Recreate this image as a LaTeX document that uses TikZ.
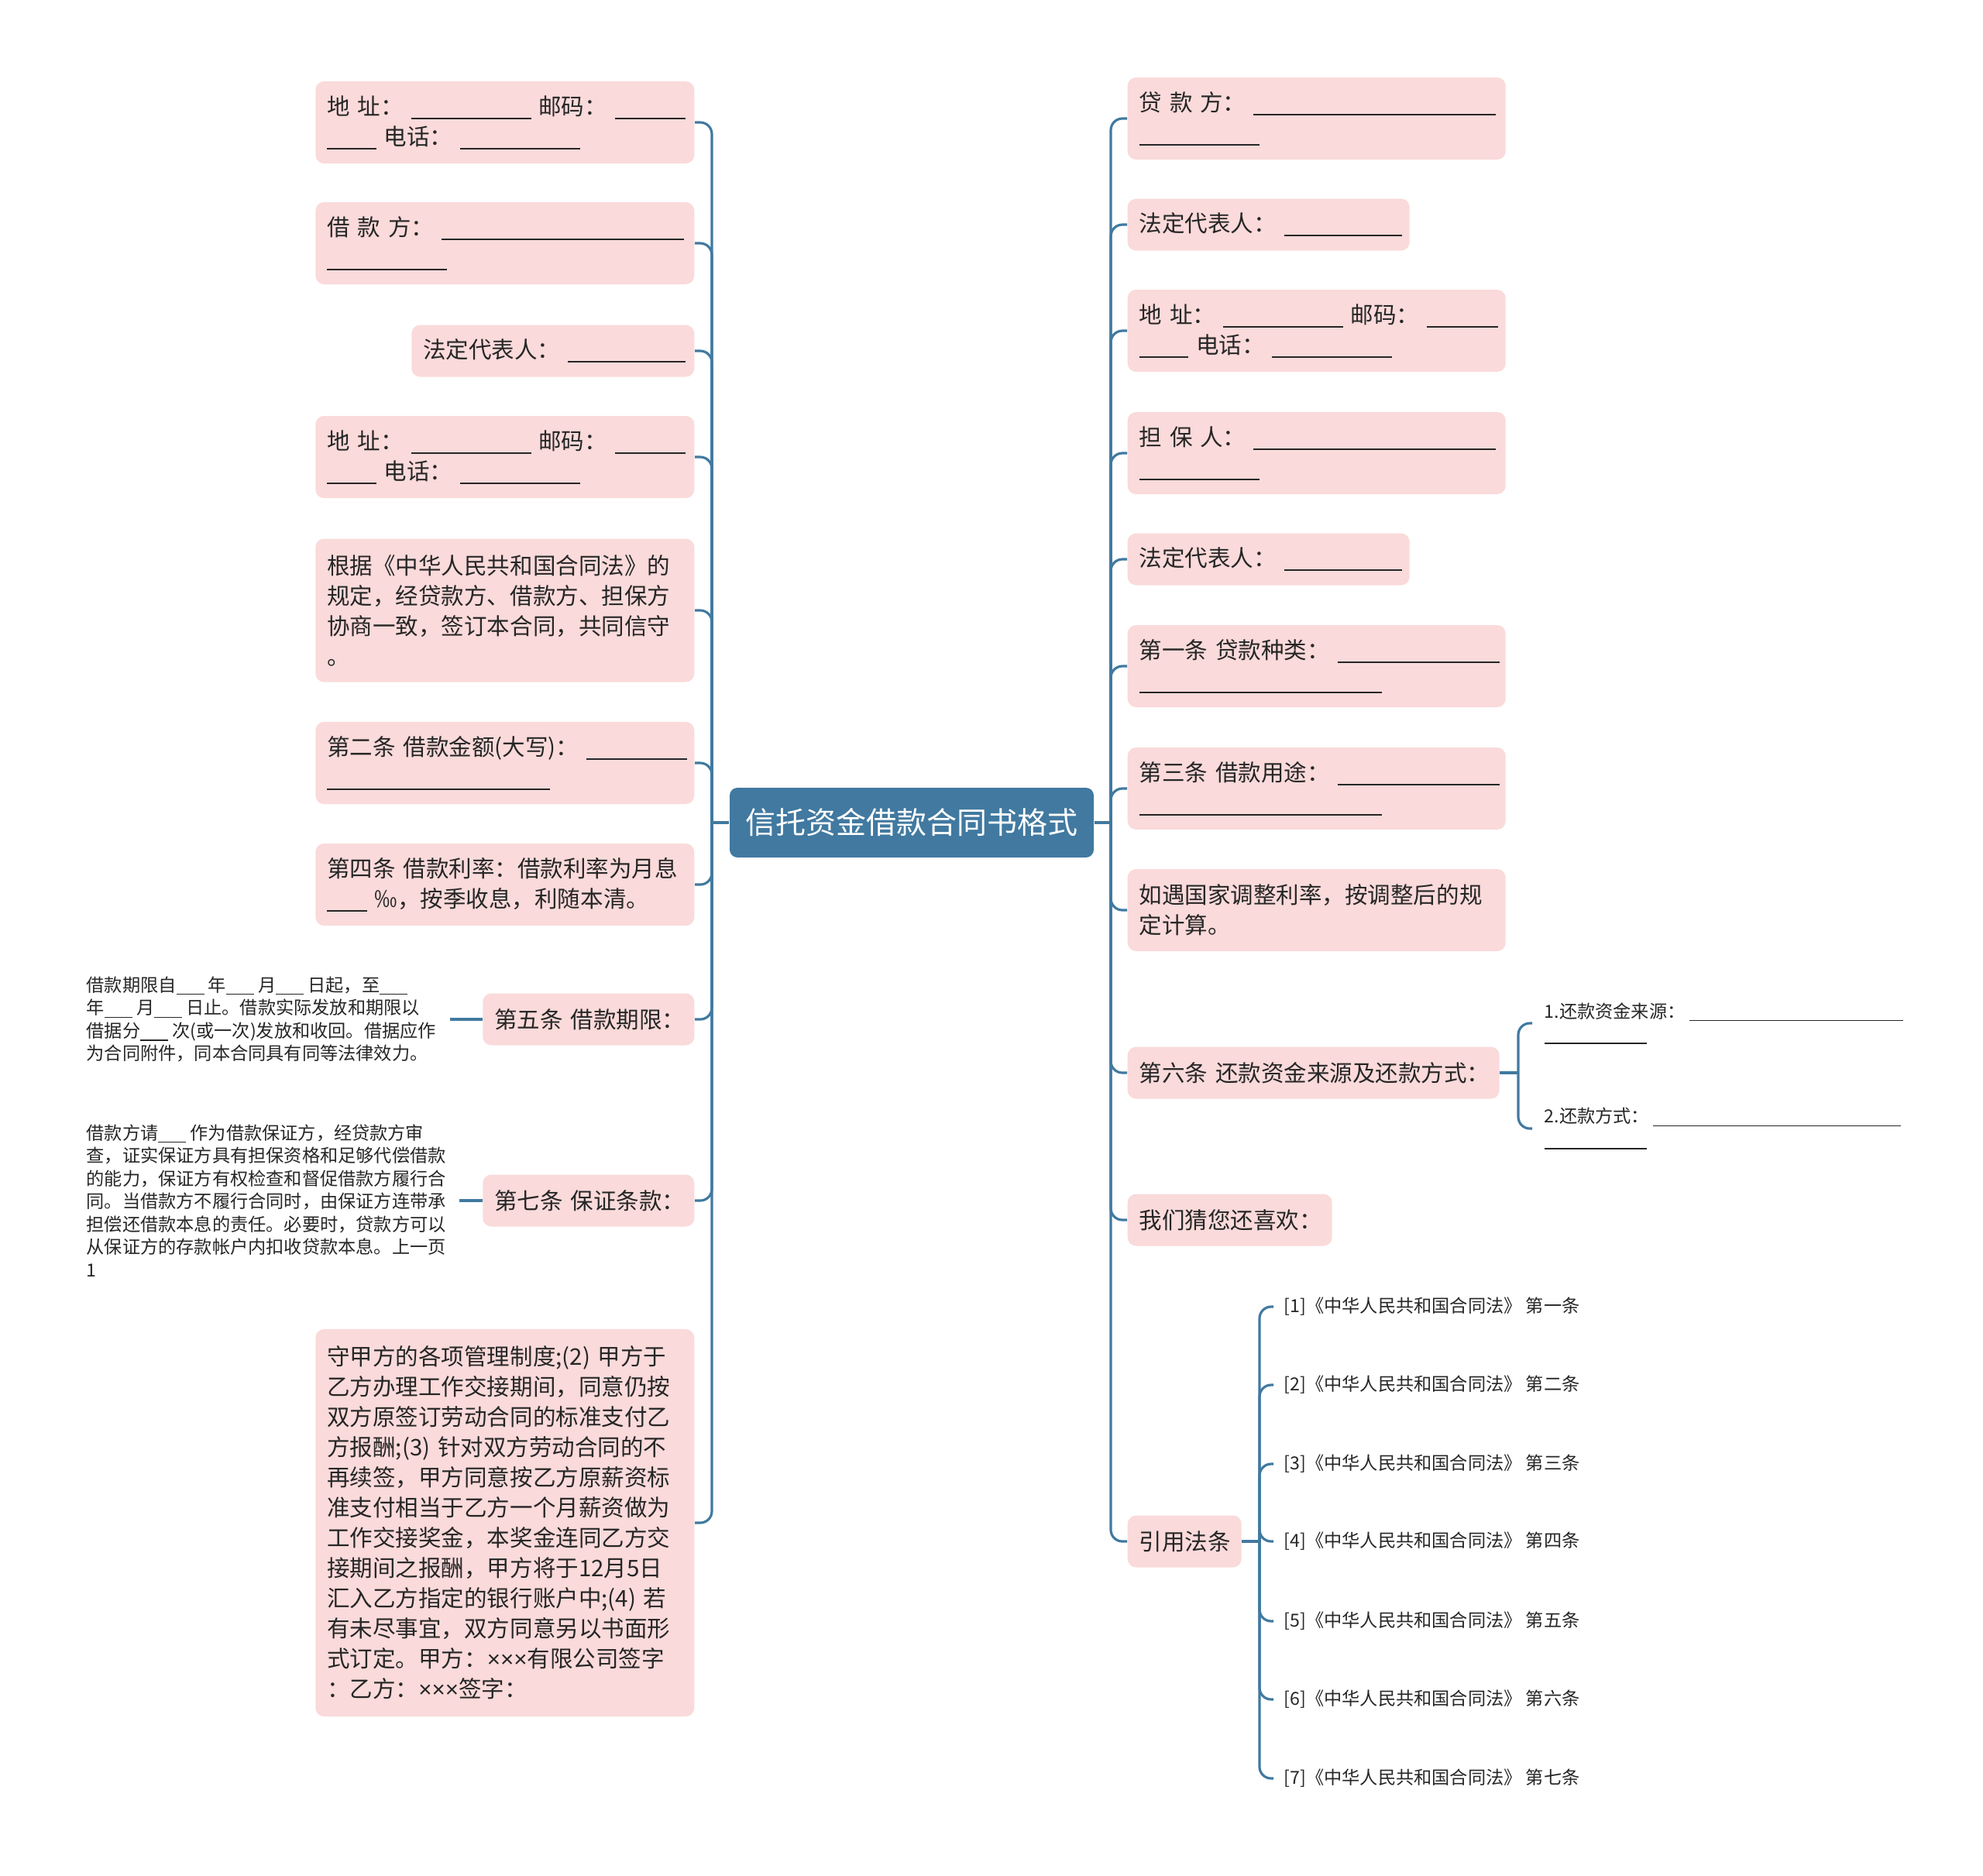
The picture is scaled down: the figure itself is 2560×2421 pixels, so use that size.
\documentclass[tikz,border=0pt]{standalone}
\usepackage{fontspec}
\setmainfont{Noto Sans CJK SC}
\newfontfamily\latinfont{Liberation Sans}
\definecolor{cardpink}{RGB}{250,218,218}
\definecolor{hubblue}{RGB}{65,121,160}
\definecolor{inkgray}{RGB}{38,38,38}
\newcommand{\hubsize}{\fontsize{11.1pt}{13pt}\selectfont}
\newcommand{\cardsize}{\fontsize{8.4pt}{11.1pt}\selectfont}
\newcommand{\notesize}{\fontsize{6.6pt}{8.4pt}\selectfont}
\newcommand{\ublank}[1]{\rule[-0.18em]{#1em}{0.06em}}
\newcommand{\xmarks}{{\latinfont ×××}}
\tikzset{loan hub/.style={fill=hubblue, text=white, rounded corners=1mm, minimum width=47mm, minimum height=9mm, font=\hubsize}}
\tikzset{loan card/.style={fill=cardpink, text=inkgray, rounded corners=1.1mm, inner xsep=1.5mm, inner ysep=0.8mm, align=left, font=\cardsize}}
\tikzset{loan one/.style={loan card, minimum height=6.7mm}}
\tikzset{loan two/.style={loan card, minimum height=10.6mm}}
\tikzset{loan note/.style={text=inkgray, inner xsep=1.7mm, align=left, font=\notesize}}
\tikzset{loan link/.style={draw=hubblue, line width=0.9pt, rounded corners=1.5mm}}

\begin{document}
\begin{tikzpicture}[x=0.1mm,y=-0.1mm]
	\useasboundingbox (0,0) rectangle (2560,2421);

	\node[loan hub] (hub) at (1177,1062) {信托资金借款合同书格式};
	\coordinate (lfork) at (919,1062);
	\coordinate (rfork) at (1434,1062);

	% left branch
	\node[loan two, anchor=east, text width=45.9mm] (lAddrA) at (897,158) {地~址：~\ublank{5.25}~邮码：~\ublank{3.1}\\\ublank{2.15}~电话：~\ublank{5.25}};
	\node[loan two, anchor=east, text width=45.9mm] (lBorrow) at (897,314) {借~款~方：~\ublank{10.6}\\\ublank{5.25}};
	\node[loan one, anchor=east, text width=33.5mm] (lLegal) at (897,453) {法定代表人：~\ublank{5.15}};
	\node[loan two, anchor=east, text width=45.9mm] (lAddrB) at (897,590) {地~址：~\ublank{5.25}~邮码：~\ublank{3.1}\\\ublank{2.15}~电话：~\ublank{5.25}};
	\node[loan card, anchor=east, text width=45.9mm, minimum height=18.5mm] (lBasis) at (897,788) {根据《中华人民共和国合同法》的\\规定，经贷款方、借款方、担保方\\协商一致，签订本合同，共同信守\\。};
	\node[loan two, anchor=east, text width=45.9mm] (lAmount) at (897,985) {第二条~借款金额(大写)：~\ublank{4.4}\\\ublank{9.75}};
	\node[loan two, anchor=east, text width=45.9mm] (lRate) at (897,1142) {第四条~借款利率：借款利率为月息\\\ublank{1.75}~‰，按季收息，利随本清。};
	\node[loan one, anchor=east, text width=24.3mm] (lTerm) at (897,1316) {第五条~借款期限：};
	\node[loan one, anchor=east, text width=24.3mm] (lGuar) at (897,1550) {第七条~保证条款：};
	\node[loan card, anchor=east, text width=45.9mm, minimum height=50mm] (lMisc) at (897,1966) {守甲方的各项管理制度;(2)~甲方于\\乙方办理工作交接期间，同意仍按\\双方原签订劳动合同的标准支付乙\\方报酬;(3)~针对双方劳动合同的不\\再续签，甲方同意按乙方原薪资标\\准支付相当于乙方一个月薪资做为\\工作交接奖金，本奖金连同乙方交\\接期间之报酬，甲方将于12月5日\\汇入乙方指定的银行账户中;(4)~若\\有未尽事宜，双方同意另以书面形\\式订定。甲方：\xmarks 有限公司签字\\：乙方：\xmarks 签字：};

	\node[loan note, anchor=west] (nTerm) at (94,1316) {借款期限自\ublank{1.55}~年\ublank{1.55}~月\ublank{1.55}~日起，至\ublank{1.55}\\年\ublank{1.55}~月\ublank{1.55}~日止。借款实际发放和期限以\\借据分\ublank{1.55}~次(或一次)发放和收回。借据应作\\为合同附件，同本合同具有同等法律效力。};
	\node[loan note, anchor=west] (nGuar) at (94,1550) {借款方请\ublank{1.55}~作为借款保证方，经贷款方审\\查，证实保证方具有担保资格和足够代偿借款\\的能力，保证方有权检查和督促借款方履行合\\同。当借款方不履行合同时，由保证方连带承\\担偿还借款本息的责任。必要时，贷款方可以\\从保证方的存款帐户内扣收贷款本息。上一页\\1};

	% right branch
	\node[loan two, anchor=west, text width=45.8mm] (rLender) at (1455,153) {贷~款~方：~\ublank{10.6}\\\ublank{5.25}};
	\node[loan one, anchor=west, text width=33.4mm] (rLegalA) at (1455,290) {法定代表人：~\ublank{5.15}};
	\node[loan two, anchor=west, text width=45.8mm] (rAddr) at (1455,427) {地~址：~\ublank{5.25}~邮码：~\ublank{3.1}\\\ublank{2.15}~电话：~\ublank{5.25}};
	\node[loan two, anchor=west, text width=45.8mm] (rSurety) at (1455,585) {担~保~人：~\ublank{10.6}\\\ublank{5.25}};
	\node[loan one, anchor=west, text width=33.4mm] (rLegalB) at (1455,722) {法定代表人：~\ublank{5.15}};
	\node[loan two, anchor=west, text width=45.8mm] (rKind) at (1455,860) {第一条~贷款种类：~\ublank{7.1}\\\ublank{10.6}};
	\node[loan two, anchor=west, text width=45.8mm] (rUse) at (1455,1018) {第三条~借款用途：~\ublank{7.1}\\\ublank{10.6}};
	\node[loan two, anchor=west, text width=45.8mm] (rAdjust) at (1455,1175) {如遇国家调整利率，按调整后的规\\定计算。};
	\node[loan one, anchor=west, text width=45mm] (rRepay) at (1455,1385) {第六条~还款资金来源及还款方式：};
	\node[loan one, anchor=west, text width=23.4mm] (rLike) at (1455,1575) {我们猜您还喜欢：};
	\node[loan one, anchor=west, text width=11.7mm] (rCite) at (1455,1990) {引用法条};

	\coordinate (repayfork) at (1960,1385);
	\node[loan note, anchor=west, inner xsep=1.5mm] (sSource) at (1978,1321) {1.还款资金来源：~\ublank{11.9}\\\ublank{5.7}};
	\node[loan note, anchor=west, inner xsep=1.5mm] (sMethod) at (1978,1457) {2.还款方式：~\ublank{13.8}\\\ublank{5.7}};

	\coordinate (citefork) at (1626,1990);
	\node[loan note, anchor=west, inner xsep=1.3mm] (cOne) at (1644,1687) {[1]《中华人民共和国合同法》~第一条};
	\node[loan note, anchor=west, inner xsep=1.3mm] (cTwo) at (1644,1788) {[2]《中华人民共和国合同法》~第二条};
	\node[loan note, anchor=west, inner xsep=1.3mm] (cThree) at (1644,1890) {[3]《中华人民共和国合同法》~第三条};
	\node[loan note, anchor=west, inner xsep=1.3mm] (cFour) at (1644,1990) {[4]《中华人民共和国合同法》~第四条};
	\node[loan note, anchor=west, inner xsep=1.3mm] (cFive) at (1644,2093) {[5]《中华人民共和国合同法》~第五条};
	\node[loan note, anchor=west, inner xsep=1.3mm] (cSix) at (1644,2194) {[6]《中华人民共和国合同法》~第六条};
	\node[loan note, anchor=west, inner xsep=1.3mm] (cSeven) at (1644,2296) {[7]《中华人民共和国合同法》~第七条};

	% connectors
	\draw[loan link] (hub.west) -- (lfork);
	\draw[loan link] (hub.east) -- (rfork);
	\draw[loan link] (lfork) |- (lAddrA.east);
	\draw[loan link] (lfork) |- (lBorrow.east);
	\draw[loan link] (lfork) |- (lLegal.east);
	\draw[loan link] (lfork) |- (lAddrB.east);
	\draw[loan link] (lfork) |- (lBasis.east);
	\draw[loan link] (lfork) |- (lAmount.east);
	\draw[loan link] (lfork) |- (lRate.east);
	\draw[loan link] (lfork) |- (lTerm.east);
	\draw[loan link] (lfork) |- (lGuar.east);
	\draw[loan link] (lfork) |- (lMisc.east);
	\draw[loan link] (nTerm.east) -- (lTerm.west);
	\draw[loan link] (nGuar.east) -- (lGuar.west);

	\draw[loan link] (rfork) |- (rLender.west);
	\draw[loan link] (rfork) |- (rLegalA.west);
	\draw[loan link] (rfork) |- (rAddr.west);
	\draw[loan link] (rfork) |- (rSurety.west);
	\draw[loan link] (rfork) |- (rLegalB.west);
	\draw[loan link] (rfork) |- (rKind.west);
	\draw[loan link] (rfork) |- (rUse.west);
	\draw[loan link] (rfork) |- (rAdjust.west);
	\draw[loan link] (rfork) |- (rRepay.west);
	\draw[loan link] (rfork) |- (rLike.west);
	\draw[loan link] (rfork) |- (rCite.west);

	\draw[loan link] (rRepay.east) -- (repayfork);
	\draw[loan link] (repayfork) |- (sSource.west);
	\draw[loan link] (repayfork) |- (sMethod.west);

	\draw[loan link] (rCite.east) -- (citefork);
	\draw[loan link] (citefork) |- (cOne.west);
	\draw[loan link] (citefork) |- (cTwo.west);
	\draw[loan link] (citefork) |- (cThree.west);
	\draw[loan link] (citefork) |- (cFour.west);
	\draw[loan link] (citefork) |- (cFive.west);
	\draw[loan link] (citefork) |- (cSix.west);
	\draw[loan link] (citefork) |- (cSeven.west);
\end{tikzpicture}
\end{document}
